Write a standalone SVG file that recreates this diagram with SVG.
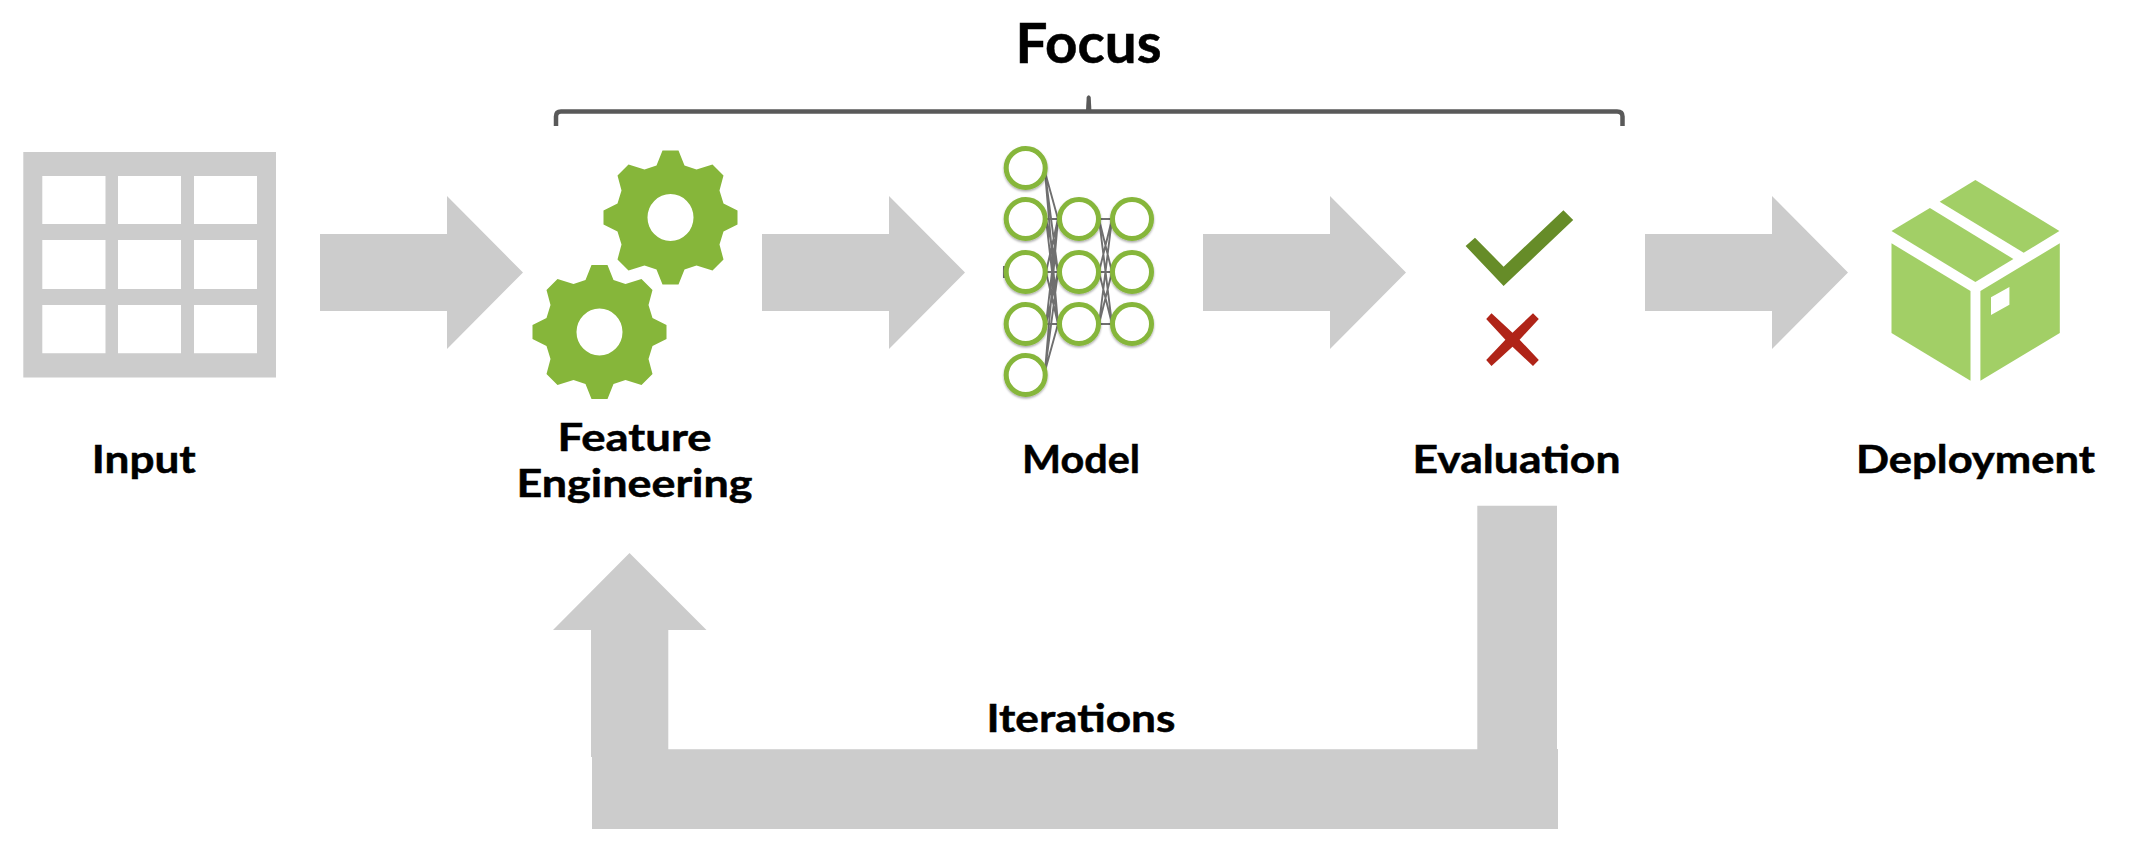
<svg xmlns="http://www.w3.org/2000/svg" xmlns:xlink="http://www.w3.org/1999/xlink" width="2152" height="864" viewBox="0 0 2152 864">
<style>
.lbl{font-family:"Lato","Noto Sans","Liberation Sans",sans-serif;font-weight:700;fill:#000;text-anchor:middle;font-size:39px;stroke:#000;stroke-width:.5}
.grey{fill:#cccccc}
.gear{fill:#86b63a}
.flow{fill:#cccccc}
.neu{fill:#fff;stroke:#86b63a;stroke-width:5}
.wire{stroke:#6f6f6f;stroke-width:1.9;fill:none}
.box{fill:#a2cf66}
</style>
<defs>
<filter id="soft" x="-20%" y="-20%" width="140%" height="140%"><feDropShadow dx="0" dy="1.5" stdDeviation="1.2" flood-color="#000" flood-opacity=".35"/></filter>
<g id="gearShape"><path fill-rule="evenodd" d="M8 -67L14 -52L26 -48L42 -53L53 -42L49 -27L53 -14L67 -7L67 7L53 14L49 27L53 42L42 53L26 48L14 52L8 67L-8 67L-14 52L-26 48L-42 53L-53 42L-49 27L-53 14L-67 7L-67 -7L-53 -14L-49 -27L-53 -42L-42 -53L-26 -48L-14 -52L-8 -67Z M0 -23.5A23 23.5 0 1 0 0 23.5A23 23.5 0 1 0 0 -23.5Z"/></g>
<path id="flowArrow" d="M0 -38.5H127V-76.5L203 0L127 76.5V38.5H0Z"/>
</defs>
<rect width="2152" height="864" fill="#fff"/>

<g id="connectors" class="flow">
<use xlink:href="#flowArrow" href="#flowArrow" x="320" y="272.5"/>
<use xlink:href="#flowArrow" href="#flowArrow" x="762" y="272.5"/>
<use xlink:href="#flowArrow" href="#flowArrow" x="1203" y="272.5"/>
<use xlink:href="#flowArrow" href="#flowArrow" x="1645" y="272.5"/>
<path id="loop" d="M1477.300 505.700H1557V749H1558V829H592V757H591V630H553L629.500 553L706.500 630H668.300V749.300H1477.300Z"/>
</g>

<g id="brace" fill="#595959">
<path d="M556 126V116.500Q556 111.500 561 111.500H1617Q1622.500 111.500 1622.500 116.500V126" fill="none" stroke="#595959" stroke-width="4.500"/>
<path d="M1086 110L1086.700 97Q1088.700 93.500 1090.700 97L1091.400 110Z"/>
</g>
<text id="focus" class="lbl" x="1088.500" y="62.500" style="font-size:55px" textLength="146" lengthAdjust="spacingAndGlyphs">Focus</text>

<g id="input">
<path class="grey" fill-rule="evenodd" d="M23.300 152H276V377.500H23.300Z M42.300 176V224H105.500V176Z M118 176V224H181V176Z M194 176V224H257V176Z M42.300 240V289H105.500V240Z M118 240V289H181V240Z M194 240V289H257V240Z M42.300 305V353.300H105.500V305Z M118 305V353.300H181V305Z M194 305V353.300H257V305Z"/>
<text class="lbl" x="143.800" y="473" textLength="104" lengthAdjust="spacingAndGlyphs">Input</text>
</g>

<g id="feature-engineering" class="gear">
<use xlink:href="#gearShape" href="#gearShape" x="670.500" y="217.500"/>
<use xlink:href="#gearShape" href="#gearShape" x="599.500" y="332"/>
<text class="lbl" x="634.500" y="450.500" textLength="154" lengthAdjust="spacingAndGlyphs">Feature</text>
<text class="lbl" x="634.500" y="496.500" textLength="236" lengthAdjust="spacingAndGlyphs">Engineering</text>
</g>

<g id="model">
<g class="wire">
<path d="M1045 172L1058 219M1045 172L1058 272M1045 172L1058 324M1046 219H1058M1046 219L1058 272M1046 219L1058 324M1046 272L1058 219M1046 272H1058M1046 272L1058 324M1046 324L1058 219M1046 324L1058 272M1046 324H1058M1045 371L1058 219M1045 371L1058 272M1045 371L1058 324"/>
<path d="M1099 219H1112M1099 219L1112 272M1099 219L1112 324M1099 272L1112 219M1099 272H1112M1099 272L1112 324M1099 324L1112 219M1099 324L1112 272M1099 324H1112"/>
<path d="M1004 266V278" stroke-width="2"/>
</g>
<g class="neu" filter="url(#soft)">
<circle cx="1025.700" cy="168" r="19.500"/>
<circle cx="1025.700" cy="219" r="19.500"/>
<circle cx="1025.700" cy="272" r="19.500"/>
<circle cx="1025.700" cy="324" r="19.500"/>
<circle cx="1025.700" cy="375" r="19.500"/>
<circle cx="1079" cy="219" r="19.500"/>
<circle cx="1079" cy="272" r="19.500"/>
<circle cx="1079" cy="324" r="19.500"/>
<circle cx="1132" cy="219" r="19.500"/>
<circle cx="1132" cy="272" r="19.500"/>
<circle cx="1132" cy="324" r="19.500"/>
</g>
<text class="lbl" x="1081" y="473" textLength="118" lengthAdjust="spacingAndGlyphs">Model</text>
</g>

<g id="evaluation">
<path fill="#668c28" d="M1465.600 246L1475 237.700L1503.600 266.700L1563.400 210.300L1573.200 220L1503.600 286Z"/>
<path fill="#b02418" d="M1491.500 313.300L1512.500 332.700L1533 313.300L1538.800 319L1519.600 339.700L1538.800 360L1533 366L1512.500 346.700L1491.500 366L1486.200 360L1505.400 339.700L1486.200 319Z"/>
<text class="lbl" x="1516.500" y="473" textLength="208" lengthAdjust="spacingAndGlyphs">Evaluation</text>
</g>

<g id="deployment">
<g class="box">
<path d="M1975.400 180L2059.400 231L2023.700 252.700L1939.700 201.700Z"/>
<path d="M1929.900 208L2013.400 259L1975.400 282L1891.500 231Z"/>
<path d="M1891.500 243.300L1970.500 291V380.700L1891.500 333Z"/>
<path fill-rule="evenodd" d="M1980.400 291L2059.800 243.300V333L1980.400 380.700Z M1991 297.300V315L2009.400 304.700V287Z"/>
</g>
<text class="lbl" x="1975.500" y="473" textLength="239" lengthAdjust="spacingAndGlyphs">Deployment</text>
</g>

<text id="iterations" class="lbl" x="1081" y="731.500" textLength="189" lengthAdjust="spacingAndGlyphs">Iterations</text>
</svg>
